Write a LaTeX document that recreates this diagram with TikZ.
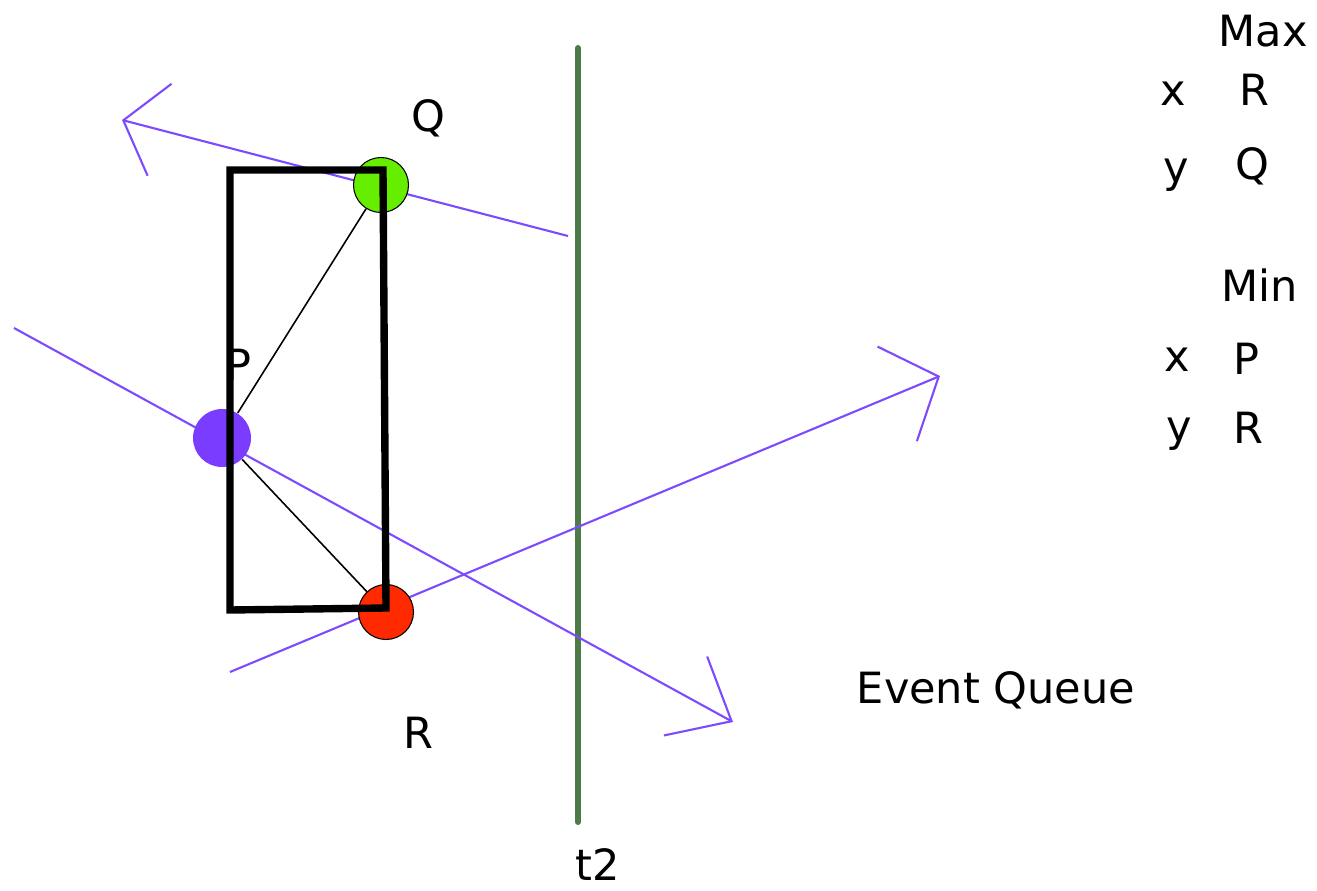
\documentclass[tikz,border=0pt]{standalone}
\usepackage{fontspec}
\setmainfont{DejaVu Sans}
\usetikzlibrary{arrows.meta}
\definecolor{sweepgreen}{HTML}{4B7B47}
\definecolor{raypurple}{HTML}{7D4BFF}
\definecolor{pointgreen}{HTML}{66EE00}
\definecolor{pointpurple}{HTML}{7A3CFF}
\definecolor{pointred}{HTML}{FF2A00}
\tikzset{
  ray/.style={raypurple,line width=1.2pt,-{Straight Barb[length=0.9cm,width=1.9cm]}},
  sweep/.style={sweepgreen,line width=3.4pt,line cap=round},
  hull/.style={black,line width=0.9pt},
  bbox/.style={black,line width=4.2pt,line join=miter},
  point/.style={circle,minimum size=1.1cm,inner sep=0pt,draw=black,line width=0.6pt},
  lbl/.style={anchor=base,inner sep=0pt,font=\fontsize{24.5}{29}\selectfont}
}
\begin{document}
\begin{tikzpicture}[x=0.02cm,y=-0.02cm]
  \useasboundingbox (0,0) rectangle (1317,891);
  % sweep line
  \draw[sweep] (578,48) -- (578,822);
  \node[lbl] (t2) at (598,880) {t2};
  % rays
  \coordinate (qa) at (568,236);
  \coordinate (qb) at (122,120);
  \coordinate (pa) at (14,328);
  \coordinate (pb) at (733,722);
  \coordinate (ra) at (230,672);
  \coordinate (rb) at (940,376);
  \draw[ray,-{Straight Barb[length=0.75cm,width=1.9cm]}] (qa) -- (qb);
  \draw[ray,-{Straight Barb[length=1.05cm,width=1.8cm]}] (pa) -- (pb);
  \draw[ray,-{Straight Barb[length=0.9cm,width=2.05cm]}] (ra) -- (rb);
  % points
  \node[point,fill=pointgreen] (Q) at (381,185) {};
  \node[point,draw=none,fill=pointpurple,minimum size=1.16cm] (P) at (222,438) {};
  \node[point,fill=pointred] (R) at (386,612) {};
  \draw[hull] (P) -- (Q);
  \draw[hull] (P) -- (R);
  \node[lbl] (plbl) at (238,380) {P};
  % bounding box
  \draw[bbox] (230,170) -- (383,170) -- (386,608) -- (230,610) -- cycle;
  \node[lbl] (qlbl) at (428,132) {Q};
  \node[lbl] (rlbl) at (418,748) {R};
  \node[lbl] (queue) at (996,703) {Event Queue};
  % extremes
  \node[lbl] (max) at (1263,47) {Max};
  \node[lbl] (maxx) at (1173,106) {x};
  \node[lbl] (maxxv) at (1254,106) {R};
  \node[lbl] (maxy) at (1176,183) {y};
  \node[lbl] (maxyv) at (1252,180) {Q};
  \node[lbl] (min) at (1260,302) {Min};
  \node[lbl] (minx) at (1177,372) {x};
  \node[lbl] (minxv) at (1246,375) {P};
  \node[lbl] (miny) at (1179,441) {y};
  \node[lbl] (minyv) at (1248,443) {R};
\end{tikzpicture}
\end{document}
